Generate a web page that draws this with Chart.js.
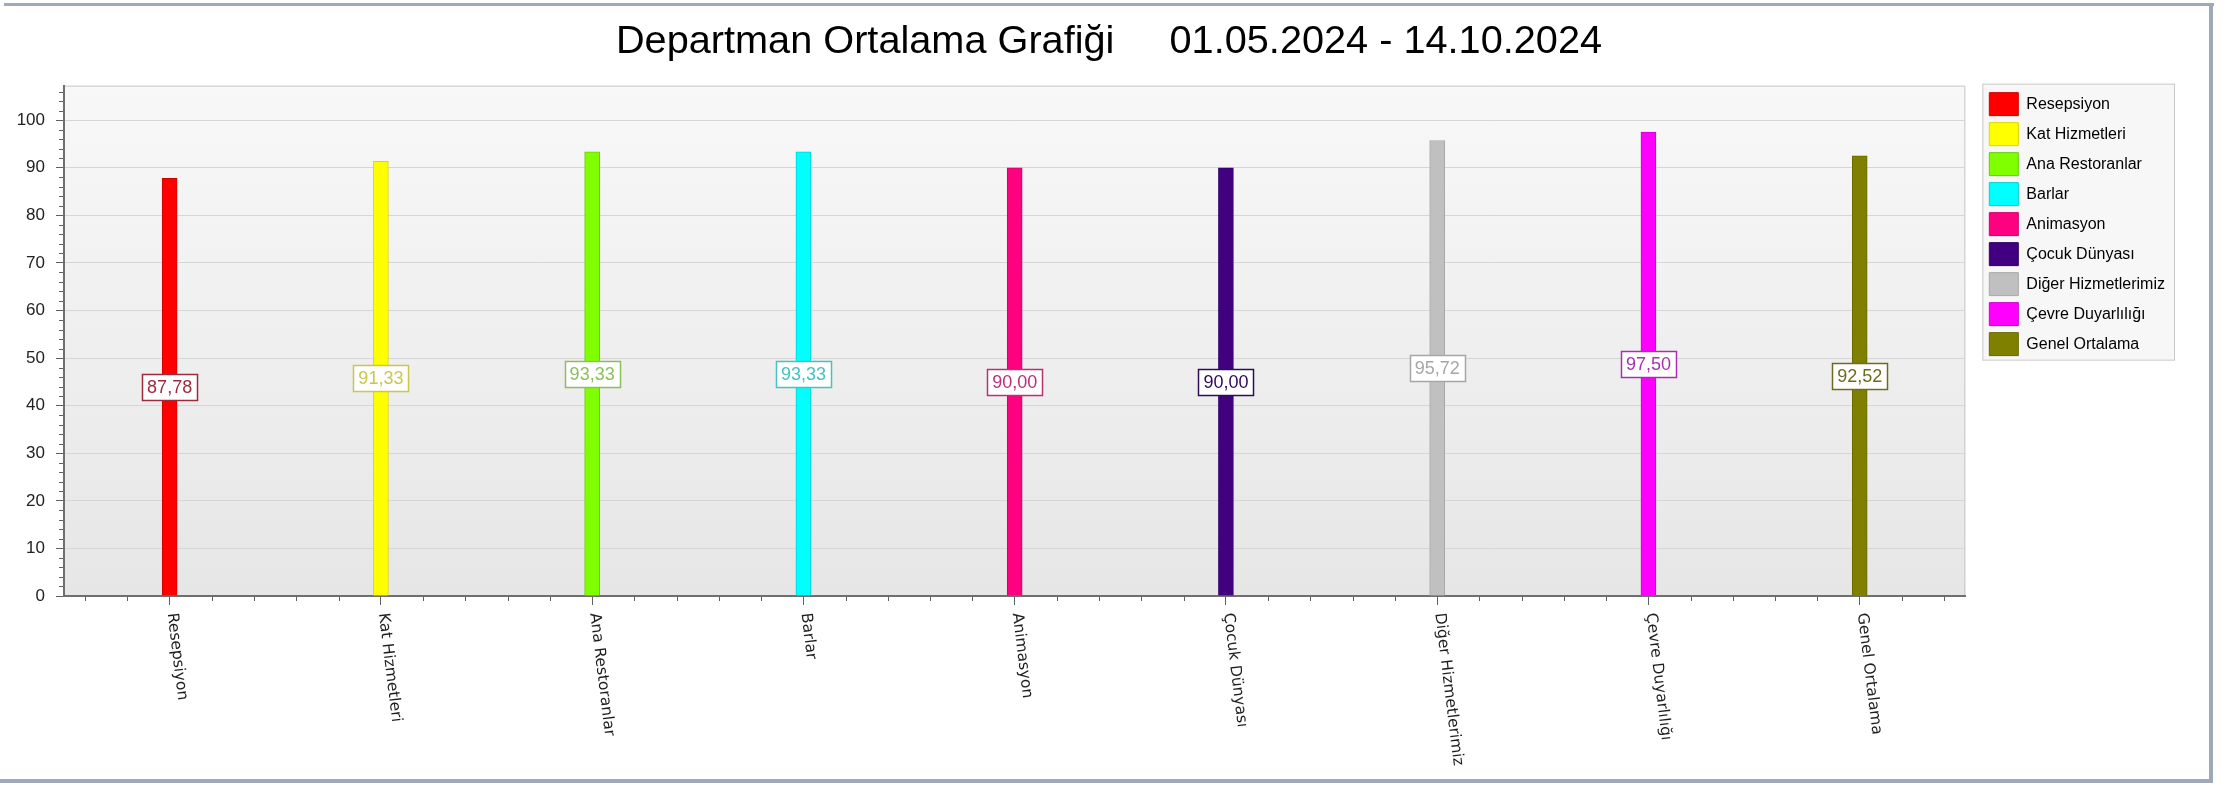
<!DOCTYPE html>
<html>
<head>
<meta charset="utf-8">
<script src="https://cdn.jsdelivr.net/npm/chart.js@4.4.1/dist/chart.umd.min.js"></script>
<style>
html,body{margin:0;padding:0;background:#fff;overflow:hidden}
#wrap{position:relative;width:2236px;height:785px}
</style>
</head>
<body>
<div id="wrap"><canvas id="c" width="2236" height="785"></canvas></div>
<script>
const titleText = 'Departman Ortalama Grafiği     01.05.2024 - 14.10.2024';
const categories = ['Resepsiyon', 'Kat Hizmetleri', 'Ana Restoranlar', 'Barlar', 'Animasyon', 'Çocuk Dünyası', 'Diğer Hizmetlerimiz', 'Çevre Duyarlılığı', 'Genel Ortalama'];
const values = [87.78, 91.33, 93.33, 93.33, 90.00, 90.00, 95.72, 97.50, 92.52];
const barColors = ['#ff0000', '#ffff00', '#7fff00', '#00ffff', '#ff0080', '#400080', '#c0c0c0', '#ff00ff', '#808000'];
const barBorderColors = ['#d00000', '#d8d800', '#66d000', '#00d0d0', '#d00068', '#30006a', '#a8a8a8', '#d000d0', '#666600'];
const labelColors = ['#9c2a3c', '#c8c84a', '#8cbf5a', '#45c2c2', '#b8307a', '#2d0d5a', '#a6a6a6', '#a830b0', '#6c6c1c'];
const yMin = 0;
const yMax = 107.25;
const yMajorStep = 10;
const yMinorStep = 2;
const xMinorDivisions = 5;

const FONT = '"Liberation Sans", Arial, sans-serif';
const LEGEND_FONT_SIZE = 16;

const backgroundPlugin = {
  id: 'backgroundPlugin',
  beforeDraw(chart) {
    const {ctx, chartArea: a} = chart;
    ctx.save();
    ctx.fillStyle = '#ffffff';
    ctx.fillRect(0, 0, chart.width, chart.height);
    const g = ctx.createLinearGradient(0, a.top, 0, a.bottom);
    g.addColorStop(0, '#f8f8f8');
    g.addColorStop(1, '#e6e6e6');
    ctx.fillStyle = g;
    ctx.fillRect(a.left, a.top, a.right - a.left, a.bottom - a.top);
    ctx.strokeStyle = '#c6c6c6';
    ctx.lineWidth = 1;
    ctx.beginPath();
    ctx.moveTo(a.left, a.top + 0.5);
    ctx.lineTo(a.right - 0.5, a.top + 0.5);
    ctx.lineTo(a.right - 0.5, a.bottom);
    ctx.stroke();
    // legend frame
    const L = chart.legend;
    if (L) {
      const lo = L.options.labels;
      const n = categories.length;
      const itemH = Math.max(lo.boxHeight, LEGEND_FONT_SIZE);
      const rowH = itemH + lo.padding;
      const h = lo.padding + (n - 1) * rowH + itemH + 6;
      ctx.fillStyle = '#f7f7f7';
      ctx.fillRect(L.left + 0.5, L.top - 1.5, L.width - 1, h);
      ctx.strokeStyle = '#c9c9c9';
      ctx.strokeRect(L.left + 0.5, L.top - 1.5, L.width - 1, h);
    }
    ctx.restore();
  }
};

const valueLabelPlugin = {
  id: 'valueLabelPlugin',
  afterDatasetsDraw(chart) {
    const {ctx} = chart;
    const meta = chart.getDatasetMeta(0);
    ctx.save();
    ctx.font = '18px ' + FONT;
    ctx.textAlign = 'center';
    ctx.textBaseline = 'middle';
    meta.data.forEach((bar, i) => {
      const txt = values[i].toFixed(2).replace('.', ',');
      const w = Math.round(ctx.measureText(txt).width + 10);
      const h = 26;
      const cx = bar.x;
      const cy = (bar.y + bar.base) / 2;
      const x0 = Math.round(cx - w / 2) + 0.5;
      const y0 = Math.round(cy - h / 2) + 0.5;
      ctx.fillStyle = '#ffffff';
      ctx.fillRect(x0, y0, w, h);
      ctx.strokeStyle = labelColors[i];
      ctx.lineWidth = 1.5;
      ctx.strokeRect(x0, y0, w, h);
      ctx.fillStyle = labelColors[i];
      ctx.fillText(txt, cx, cy + 1);
    });
    ctx.restore();
  }
};

const axisExtrasPlugin = {
  id: 'axisExtrasPlugin',
  afterDraw(chart) {
    const {ctx, chartArea: a, scales} = chart;
    const x = scales.x, y = scales.y;
    ctx.save();
    // minor ticks on y
    ctx.strokeStyle = '#606060';
    ctx.lineWidth = 1;
    ctx.beginPath();
    for (let v = yMin; v <= yMax; v += yMinorStep) {
      if (v % yMajorStep === 0) continue;
      const py = Math.round(y.getPixelForValue(v)) + 0.5;
      ctx.moveTo(a.left - 5, py);
      ctx.lineTo(a.left - 1, py);
    }
    // minor ticks on x
    const x0 = x.getPixelForValue(0);
    const step = x.getPixelForValue(1) - x0;
    for (let k = -xMinorDivisions; k <= categories.length * xMinorDivisions; k++) {
      if (k % xMinorDivisions === 0) continue;
      const px = Math.round(x0 + k * step / xMinorDivisions) + 0.5;
      if (px <= a.left + 1 || px >= a.right) continue;
      ctx.moveTo(px, a.bottom + 1);
      ctx.lineTo(px, a.bottom + 5);
    }
    ctx.stroke();
    // rotated category labels
    ctx.font = '15.5px "DejaVu Sans", sans-serif';
    ctx.fillStyle = '#1e1e1e';
    ctx.textAlign = 'left';
    ctx.textBaseline = 'middle';
    categories.forEach((c, i) => {
      const px = x.getPixelForTick(i);
      ctx.save();
      ctx.translate(px + 2, a.bottom + 17);
      ctx.rotate(83 * Math.PI / 180);
      ctx.fillText(c, 0, 0);
      ctx.restore();
    });
    // window frame
    ctx.fillStyle = '#9eaab8';
    ctx.fillRect(4, 3, 2210, 3);
    ctx.fillRect(2209, 3, 4, 780);
    ctx.fillRect(0, 779, 2213, 4);
    ctx.restore();
  }
};

new Chart(document.getElementById('c'), {
  type: 'bar',
  data: {
    labels: categories,
    datasets: [{
      data: values,
      backgroundColor: barColors,
      borderColor: barBorderColors,
      borderWidth: 1,
      barThickness: 15
    }]
  },
  options: {
    responsive: false,
    animation: false,
    devicePixelRatio: 1,
    layout: {padding: {left: 0, right: 18, top: 0, bottom: 0}},
    plugins: {
      title: {
        display: true,
        text: titleText,
        color: '#000000',
        font: {family: FONT, size: 39.7, weight: 'normal'},
        padding: {top: 18, bottom: 20}
      },
      legend: {
        display: true,
        position: 'right',
        align: 'start',
        fullSize: false,
        labels: {
          boxWidth: 29,
          boxHeight: 23,
          padding: 7,
          color: '#222222',
          font: {family: FONT, size: LEGEND_FONT_SIZE},
          generateLabels: () => categories.map((c, i) => ({
            text: c,
            fillStyle: barColors[i],
            strokeStyle: barBorderColors[i],
            lineWidth: 1,
            hidden: false,
            index: i,
            datasetIndex: 0
          }))
        }
      },
      tooltip: {enabled: false}
    },
    scales: {
      x: {
        type: 'category',
        offset: true,
        grid: {display: true, drawOnChartArea: false, offset: false, tickLength: 9, tickColor: '#606060', tickWidth: 1},
        border: {display: true, color: '#6f6f6f', width: 2},
        ticks: {display: false},
        afterFit(s) { s.height = 189; }
      },
      y: {
        type: 'linear',
        min: yMin,
        max: yMax,
        ticks: {stepSize: yMajorStep, includeBounds: false, padding: 11, color: '#222222', font: {family: FONT, size: 17}},
        grid: {color: '#d6d6d6', tickColor: '#606060', tickLength: 8, lineWidth: 1},
        border: {display: true, color: '#6f6f6f', width: 2},
        afterFit(s) { s.width = 64; }
      },
      gap: {
        type: 'linear',
        position: 'right',
        display: true,
        weight: 0,
        grid: {display: false, drawTicks: false},
        border: {display: false},
        ticks: {display: false},
        afterFit(s) { s.width = 17; }
      },
      outerGap: {
        type: 'linear',
        position: 'right',
        display: true,
        weight: 5000,
        grid: {display: false, drawTicks: false},
        border: {display: false},
        ticks: {display: false},
        afterFit(s) { s.width = 43; }
      }
    }
  },
  plugins: [backgroundPlugin, valueLabelPlugin, axisExtrasPlugin]
});
</script>
</body>
</html>
